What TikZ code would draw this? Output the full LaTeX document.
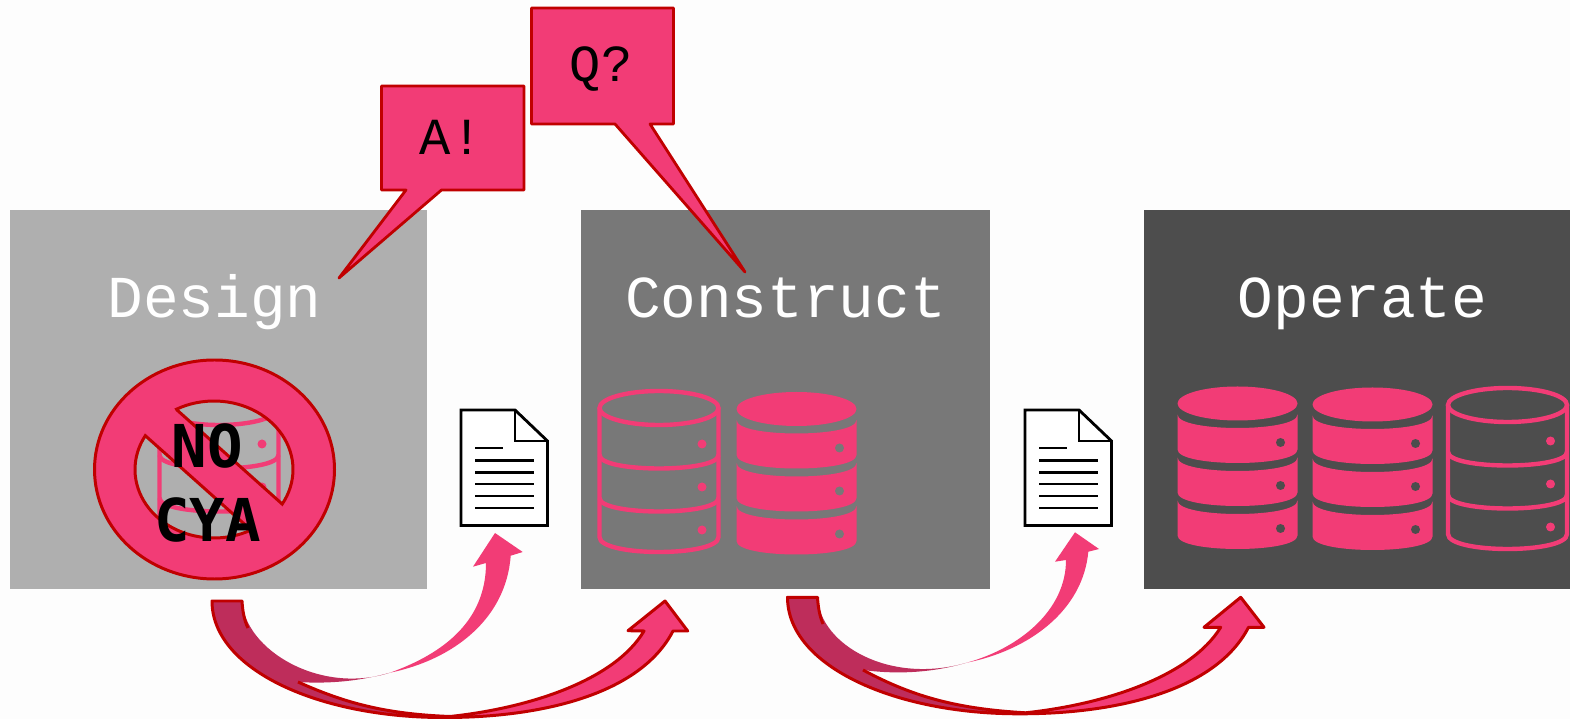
\documentclass[tikz,border=0pt]{standalone}
\usepackage{fontspec}
\usepackage{tikz}
\newfontfamily\panelfont{Liberation Mono}
\newfontfamily\signfont{DejaVu Sans Mono}
\definecolor{pagebg}{HTML}{FDFDFD}
\definecolor{panellight}{HTML}{AFAFAF}
\definecolor{panelmid}{HTML}{787878}
\definecolor{paneldark}{HTML}{4D4D4D}
\definecolor{pinkfill}{HTML}{F23C76}
\definecolor{tailfill}{HTML}{BE2D5B}
\definecolor{redline}{HTML}{C00000}
\tikzset{
  paneltext/.style={anchor=base, inner sep=0pt, text=white, font=\panelfont\fontsize{16.9}{20}\selectfont},
  calltext/.style={anchor=base, inner sep=0pt, text=black, font=\panelfont\fontsize{14.8}{17}\selectfont},
  signtext/.style={inner sep=0pt, align=center, text=black, font=\signfont\bfseries\fontsize{16.8}{20.8}\selectfont},
  callout/.style={fill=pinkfill, draw=redline, line width=.8pt, line join=round},
  arrowline/.style={draw=redline, line width=.85pt, line join=round},
  docline/.style={black, line width=.8pt},
  dbsolid/.pic={
    \fill[pinkfill] (0,0) ellipse [x radius=60, y radius=17];
    \foreach \tier in {0,43,86} {
      \fill[pinkfill] (-60,11+\tier) .. controls (-60,29+\tier) and (60,29+\tier) .. (60,11+\tier) -- (60,46+\tier) .. controls (60,64+\tier) and (-60,64+\tier) .. (-60,46+\tier) -- cycle;
      \fill[#1] (43,39+\tier) circle [radius=4.5];
    }
  },
  dboutline/.pic={
    \draw[pinkfill, line width=1.25pt] (0,0) ellipse [x radius=59.5, y radius=17];
    \draw[pinkfill, line width=1.25pt] (-59.5,0) -- (-59.5,129) .. controls (-59.5,149) and (59.5,149) .. (59.5,129) -- (59.5,0);
    \foreach \tier in {47,90} \draw[pinkfill, line width=1.25pt] (-59.5,\tier) .. controls (-59.5,\tier+18) and (59.5,\tier+18) .. (59.5,\tier);
    \foreach \tier in {0,43,86} \fill[pinkfill] (43,36+\tier) circle [radius=4.5];
  },
}

\begin{document}
\begin{tikzpicture}[x=.01cm, y=-.01cm]
\useasboundingbox (0,0) rectangle (1570,719);
\fill[pagebg] (0,0) rectangle (1570,719);

% panels
\fill[panellight] (10,210) rectangle (427,589.5);
\fill[panelmid] (581,210) rectangle (990,589.5);
\fill[paneldark] (1144,210) rectangle (1570,589.5);
\node (design) [paneltext] at (214.5,318) {Design};
\node (construct) [paneltext] at (785.5,318) {Construct};
\node (operate) [paneltext] at (1362.5,318) {Operate};

% databases
\foreach \cx/\cy/\hole in {796.5/409/panelmid, 1237.5/403.5/paneldark, 1372.5/404.5/paneldark} \path (\cx,\cy) pic {dbsolid=\hole};
\foreach \cx/\cy in {219/408, 659/408, 1507.5/405} \path (\cx,\cy) pic {dboutline};

% no sign
\draw[fill=pinkfill, draw=redline, line width=.85pt, even odd rule]
  (214.5,469.5) ellipse [x radius=120, y radius=109.5]
  (177,410) -- plot[domain=241.7:390.3, samples=40, variable=\a] ({214+79*cos(\a)},{469.5+68.5*sin(\a)}) -- cycle
  (251,530) -- plot[domain=62:209.6, samples=40, variable=\a] ({214+79*cos(\a)},{469.5+68.5*sin(\a)}) -- cycle;
\node (nocya) [signtext] at (207.5,483) {NO\\CYA};

% documents
\foreach \dx in {0,564} {
  \draw[docline, fill=white, line join=miter] (461+\dx,410) -- (515+\dx,410) -- (547.5+\dx,441) -- (547.5+\dx,525.5) -- (461+\dx,525.5) -- cycle;
  \draw[docline] (515+\dx,410) -- (515+\dx,441) -- (547.5+\dx,441);
  \draw[docline] (475+\dx,448) -- (503+\dx,448);
  \foreach \y in {460.5,472.3,484,496,508} \draw[docline] (475+\dx,\y) -- (534+\dx,\y);
}

% callouts
\draw[callout] (381.5,86) -- (524,86) -- (524,190) -- (441.5,190) -- (339,278) -- (406,190) -- (381.5,190) -- cycle;
\draw[callout] (531.5,8) -- (673.5,8) -- (673.5,124) -- (650,124) -- (745,272) -- (615,124) -- (531.5,124) -- cycle;
\node (answer) [calltext] at (451,155) {A!};
\node (question) [calltext] at (601,82) {Q?};

% first pair of curved arrows
\fill[pinkfill] (390,672.7) .. controls (445,653) and (486,620) .. (486,563) -- (473,566.7) -- (495,533) -- (522.7,552) -- (510.7,555.7) .. controls (506,620) and (452,660) .. (390,672.7) -- cycle;
\fill[pinkfill] (445,717.5) .. controls (540,717.5) and (640,695) .. (673,631) -- (687.7,631) -- (665,601) -- (628,630.7) -- (644,631) .. controls (615,680) and (530,708) .. (450,716.5) -- cycle;
\fill[tailfill] (212,601) -- (242,601) .. controls (245,650) and (320,695) .. (390,672.7) .. controls (360,681) and (330,684) .. (298,682) .. controls (345,703) and (385,714) .. (450,716.5) -- (445,717.5) .. controls (320,718) and (212,670) .. (212,601) -- cycle;
\draw[arrowline] (248,628) .. controls (244,620) and (242.5,610) .. (242,601) -- (212,601) .. controls (212,670) and (320,718) .. (445,717.5) .. controls (540,717.5) and (640,695) .. (673,631) -- (687.7,631) -- (665,601) -- (628,630.7) -- (644,631) .. controls (615,680) and (530,708) .. (450,716.5) .. controls (385,714) and (345,703) .. (298,682);

% second pair of curved arrows
\fill[pinkfill] (966.7,662.7) .. controls (1020,648) and (1066,610) .. (1066,560) -- (1055,561.7) -- (1075,532.3) -- (1099,549) -- (1088.3,551.7) .. controls (1083,610) and (1030,650) .. (966.7,662.7) -- cycle;
\fill[pinkfill] (1020.5,713.8) .. controls (1115.5,713.8) and (1215.5,691.3) .. (1248.5,627.3) -- (1264,627.3) -- (1240.7,597.3) -- (1204,627.3) -- (1220.7,627.3) .. controls (1190.5,676.3) and (1105.5,704.3) .. (1025.5,712.8) -- cycle;
\fill[tailfill] (787.5,597.3) -- (817.5,597.3) .. controls (820,645) and (890,685) .. (966.7,662.7) .. controls (935,672) and (900,675) .. (863,670) .. controls (915,698) and (960,709) .. (1025.5,712.8) -- (1020.5,713.8) .. controls (895.5,714.3) and (787.5,666.3) .. (787.5,597.3) -- cycle;
\draw[arrowline] (823,624) .. controls (819.5,616) and (818,606) .. (817.5,597.3) -- (787.5,597.3) .. controls (787.5,666.3) and (895.5,714.3) .. (1020.5,713.8) .. controls (1115.5,713.8) and (1215.5,691.3) .. (1248.5,627.3) -- (1264,627.3) -- (1240.7,597.3) -- (1204,627.3) -- (1220.7,627.3) .. controls (1190.5,676.3) and (1105.5,704.3) .. (1025.5,712.8) .. controls (960,709) and (915,698) .. (863,670);
\end{tikzpicture}
\end{document}
